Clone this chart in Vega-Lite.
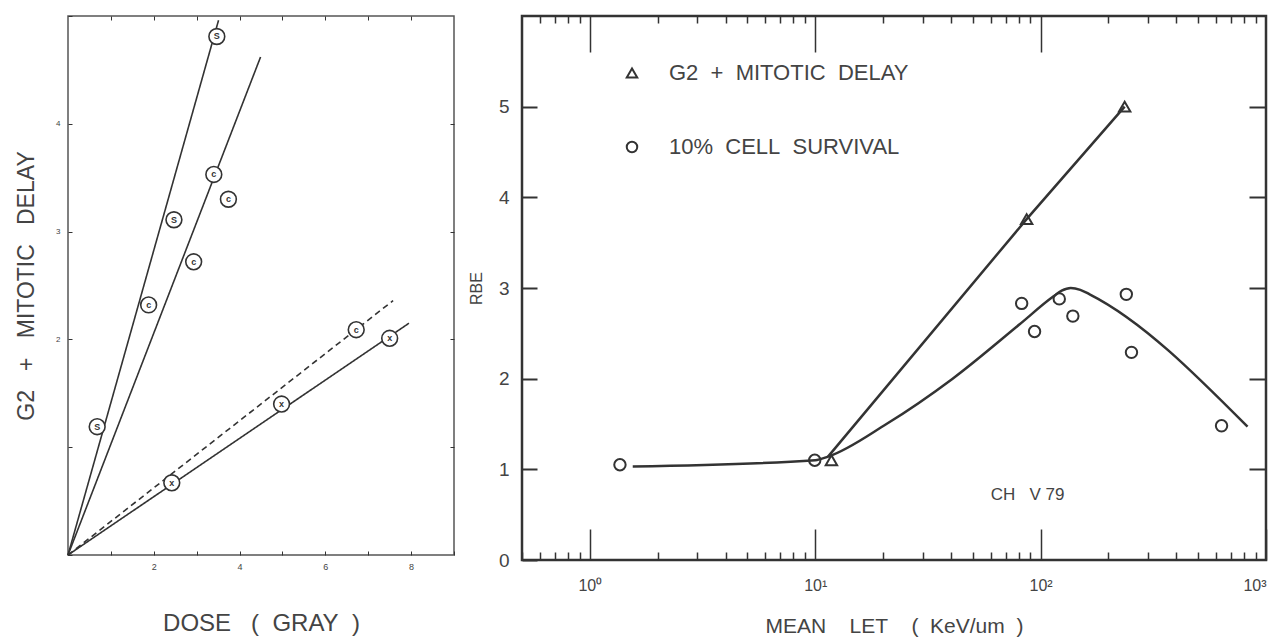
{
  "$schema": "https://vega.github.io/schema/vega-lite/v6.json",
  "background": "white",
  "padding": {"left": 14, "top": 14, "right": 5, "bottom": 5},
  "spacing": 68,
  "bounds": "flush",
  "config": {
    "font": "Liberation Sans",
    "view": {"stroke": null},
    "axis": {"labelColor": "#444", "titleColor": "#444", "titleFontWeight": "normal", "domain": false, "grid": false, "tickColor": "#333"}
  },
  "datasets": {
    "leftLines": [
      {"s": "A", "style": "solid", "dose": 0, "delay": 0},
      {"s": "A", "style": "solid", "dose": 3.51, "delay": 4.96},
      {"s": "B", "style": "solid", "dose": 0, "delay": 0},
      {"s": "B", "style": "solid", "dose": 4.49, "delay": 4.62},
      {"s": "C", "style": "solid", "dose": 0, "delay": 0},
      {"s": "C", "style": "solid", "dose": 7.95, "delay": 2.15},
      {"s": "D", "style": "dashed", "dose": 0, "delay": 0},
      {"s": "D", "style": "dashed", "dose": 7.58, "delay": 2.36}
    ],
    "leftPoints": [
      {"s": "A", "glyph": "S", "dose": 0.68, "delay": 1.19},
      {"s": "A", "glyph": "S", "dose": 2.47, "delay": 3.11},
      {"s": "A", "glyph": "S", "dose": 3.47, "delay": 4.81},
      {"s": "B", "glyph": "c", "dose": 1.88, "delay": 2.32},
      {"s": "B", "glyph": "c", "dose": 2.93, "delay": 2.72},
      {"s": "B", "glyph": "c", "dose": 3.4, "delay": 3.53},
      {"s": "B", "glyph": "c", "dose": 3.74, "delay": 3.3},
      {"s": "C", "glyph": "x", "dose": 2.42, "delay": 0.67},
      {"s": "C", "glyph": "x", "dose": 4.98, "delay": 1.4},
      {"s": "C", "glyph": "x", "dose": 7.5, "delay": 2.01},
      {"s": "D", "glyph": "c", "dose": 6.72, "delay": 2.09}
    ],
    "survCurve": [
      {"let": 1.55, "rbe": 1.03},
      {"let": 10, "rbe": 1.1},
      {"let": 11.4, "rbe": 1.14},
      {"let": 20.7, "rbe": 1.5},
      {"let": 40.7, "rbe": 2.0},
      {"let": 80.7, "rbe": 2.6},
      {"let": 113, "rbe": 2.9},
      {"let": 124, "rbe": 2.97},
      {"let": 136, "rbe": 3.0},
      {"let": 150, "rbe": 2.98},
      {"let": 165, "rbe": 2.93},
      {"let": 828, "rbe": 1.47}
    ],
    "triLine": [
      {"let": 11.4, "rbe": 1.14},
      {"let": 86.7, "rbe": 3.76},
      {"let": 236, "rbe": 5.0}
    ],
    "rightPoints": [
      {"series": "10%\u00a0\u00a0CELL\u00a0\u00a0SURVIVAL", "let": 1.36, "rbe": 1.05},
      {"series": "10%\u00a0\u00a0CELL\u00a0\u00a0SURVIVAL", "let": 9.95, "rbe": 1.1},
      {"series": "10%\u00a0\u00a0CELL\u00a0\u00a0SURVIVAL", "let": 82.4, "rbe": 2.83},
      {"series": "10%\u00a0\u00a0CELL\u00a0\u00a0SURVIVAL", "let": 94, "rbe": 2.52},
      {"series": "10%\u00a0\u00a0CELL\u00a0\u00a0SURVIVAL", "let": 121, "rbe": 2.88},
      {"series": "10%\u00a0\u00a0CELL\u00a0\u00a0SURVIVAL", "let": 139, "rbe": 2.69},
      {"series": "10%\u00a0\u00a0CELL\u00a0\u00a0SURVIVAL", "let": 240, "rbe": 2.93},
      {"series": "10%\u00a0\u00a0CELL\u00a0\u00a0SURVIVAL", "let": 253, "rbe": 2.29},
      {"series": "10%\u00a0\u00a0CELL\u00a0\u00a0SURVIVAL", "let": 635, "rbe": 1.48},
      {"series": "G2\u00a0\u00a0+\u00a0\u00a0MITOTIC\u00a0\u00a0DELAY", "let": 11.8, "rbe": 1.1},
      {"series": "G2\u00a0\u00a0+\u00a0\u00a0MITOTIC\u00a0\u00a0DELAY", "let": 86.7, "rbe": 3.76},
      {"series": "G2\u00a0\u00a0+\u00a0\u00a0MITOTIC\u00a0\u00a0DELAY", "let": 236, "rbe": 5.0}
    ],
    "note": [
      {"label": "CH\u00a0\u00a0\u00a0V\u00a079", "let": 87.5, "rbe": 0.72}
    ]
  },
  "hconcat": [
    {
      "width": 386,
      "height": 539,
      "view": {"stroke": "#555", "strokeWidth": 1.5},
      "layer": [
        {
          "data": {"name": "leftLines"},
          "mark": {"type": "line", "color": "#333", "strokeWidth": 1.6},
          "encoding": {
            "x": {"field": "dose", "type": "quantitative", "scale": {"domain": [0, 9], "nice": false},
              "axis": {"orient": "bottom", "values": [0, 1, 2, 3, 4, 5, 6, 7, 8, 9], "labelExpr": "datum.value % 2 == 0 && datum.value > 0 ? datum.label : ''", "tickSize": -4, "labelFontSize": 9, "labelPadding": 11, "title": "DOSE\u00a0\u00a0\u00a0(\u00a0\u00a0GRAY\u00a0\u00a0)", "titleFontSize": 24, "titlePadding": 40}},
            "y": {"field": "delay", "type": "quantitative", "scale": {"domain": [0, 5], "nice": false},
              "axis": {"orient": "left", "values": [0, 1, 2, 3, 4, 5], "labelExpr": "datum.value >= 2 && datum.value <= 4 ? datum.label : ''", "tickSize": -4, "labelFontSize": 8, "labelPadding": 12, "title": "G2\u00a0\u00a0\u00a0+\u00a0\u00a0\u00a0MITOTIC\u00a0\u00a0\u00a0DELAY", "titleFontSize": 23, "titlePadding": 17}},
            "detail": {"field": "s"},
            "strokeDash": {"field": "style", "type": "nominal", "scale": {"domain": ["solid", "dashed"], "range": [[1, 0], [6, 4]]}, "legend": null}
          }
        },
        {
          "data": {"name": "leftPoints"},
          "mark": {"type": "point", "shape": "circle", "size": 250, "filled": true, "fill": "white", "stroke": "#333", "strokeWidth": 1.6, "opacity": 1},
          "encoding": {
            "x": {"field": "dose", "type": "quantitative", "scale": {"domain": [0, 9], "nice": false},
              "axis": {"orient": "top", "values": [1, 2, 3, 4, 5, 6, 7, 8], "labels": false, "tickSize": -4, "title": null}},
            "y": {"field": "delay", "type": "quantitative", "scale": {"domain": [0, 5], "nice": false},
              "axis": {"orient": "right", "values": [1, 2, 3, 4], "labels": false, "tickSize": -4, "title": null}}
          }
        },
        {
          "data": {"name": "leftPoints"},
          "mark": {"type": "text", "fontSize": 9, "color": "#333", "fontWeight": "bold", "baseline": "middle", "align": "center"},
          "encoding": {
            "x": {"field": "dose", "type": "quantitative", "scale": {"domain": [0, 9], "nice": false}, "axis": null},
            "y": {"field": "delay", "type": "quantitative", "scale": {"domain": [0, 5], "nice": false}, "axis": null},
            "text": {"field": "glyph"}
          }
        }
      ],
      "resolve": {"axis": {"x": "independent", "y": "independent"}}
    },
    {
      "width": 744,
      "height": 544,
      "view": {"stroke": "#333", "strokeWidth": 2.5},
      "layer": [
        {
          "data": {"name": "survCurve"},
          "mark": {"type": "line", "color": "#333", "strokeWidth": 2.5, "interpolate": "monotone"},
          "encoding": {
            "x": {"field": "let", "type": "quantitative", "scale": {"type": "log", "domain": [0.5, 1000], "nice": false},
              "axis": {"orient": "bottom", "values": [1, 10, 100, 1000], "labelExpr": "datum.value == 1 ? '10⁰' : datum.value == 10 ? '10¹' : datum.value == 100 ? '10²' : '10³'", "tickSize": -31, "tickWidth": 1.5, "labelFontSize": 16, "labelPadding": 48, "title": "MEAN\u00a0\u00a0\u00a0\u00a0LET\u00a0\u00a0\u00a0\u00a0(\u00a0\u00a0KeV/um\u00a0\u00a0)", "titleFontSize": 21, "titlePadding": 22}},
            "y": {"field": "rbe", "type": "quantitative", "scale": {"domain": [0, 6], "nice": false},
              "axis": {"orient": "left", "values": [0, 1, 2, 3, 4, 5], "tickSize": -15, "tickWidth": 2, "labelFontSize": 19, "labelPadding": 28, "title": "RBE", "titleFontSize": 16, "titlePadding": 14}}
          }
        },
        {
          "data": {"name": "triLine"},
          "mark": {"type": "line", "color": "#333", "strokeWidth": 2.5},
          "encoding": {
            "x": {"field": "let", "type": "quantitative", "scale": {"type": "log", "domain": [0.5, 1000], "nice": false},
              "axis": {"orient": "bottom", "values": [0.5, 0.6, 0.7, 0.8, 0.9, 2, 3, 4, 5, 6, 7, 8, 9, 20, 30, 40, 50, 60, 70, 80, 90, 200, 300, 400, 500, 600, 700, 800, 900], "labels": false, "tickSize": -8, "tickWidth": 1.5, "title": null}},
            "y": {"field": "rbe", "type": "quantitative", "scale": {"domain": [0, 6], "nice": false},
              "axis": {"orient": "right", "values": [1, 2, 3, 4, 5], "labels": false, "tickSize": -17, "tickWidth": 2, "title": null}}
          }
        },
        {
          "data": {"name": "rightPoints"},
          "mark": {"type": "point", "size": 130, "strokeWidth": 2, "color": "#333", "filled": false, "opacity": 1},
          "encoding": {
            "x": {"field": "let", "type": "quantitative", "scale": {"type": "log", "domain": [0.5, 1000], "nice": false},
              "axis": {"orient": "top", "values": [1, 10, 100], "labels": false, "tickSize": -36, "tickWidth": 1.5, "title": null}},
            "y": {"field": "rbe", "type": "quantitative", "scale": {"domain": [0, 6], "nice": false}, "axis": null},
            "shape": {"field": "series", "type": "nominal",
              "scale": {"domain": ["G2\u00a0\u00a0+\u00a0\u00a0MITOTIC\u00a0\u00a0DELAY", "10%\u00a0\u00a0CELL\u00a0\u00a0SURVIVAL"], "range": ["triangle-up", "circle"]},
              "legend": {"orient": "none", "legendX": 553, "legendY": 46, "title": null, "labelFontSize": 22, "labelLimit": 500, "labelColor": "#444", "labelFont": "Liberation Sans", "symbolSize": 110, "symbolStrokeWidth": 2, "symbolStrokeColor": "#333", "rowPadding": 52, "labelOffset": 26}}
          }
        },
        {
          "data": {"name": "note"},
          "mark": {"type": "text", "fontSize": 17, "color": "#444", "align": "center", "baseline": "middle"},
          "encoding": {
            "x": {"field": "let", "type": "quantitative", "scale": {"type": "log", "domain": [0.5, 1000], "nice": false},
              "axis": {"orient": "top", "values": [0.6, 0.7, 0.8, 0.9, 2, 3, 4, 5, 6, 7, 8, 9, 20, 30, 40, 50, 60, 70, 80, 90, 200, 300, 400, 500, 600, 700, 800, 900], "labels": false, "tickSize": -7, "tickWidth": 1.5, "title": null}},
            "y": {"field": "rbe", "type": "quantitative", "scale": {"domain": [0, 6], "nice": false}, "axis": null},
            "text": {"field": "label"}
          }
        }
      ],
      "resolve": {"axis": {"x": "independent", "y": "independent"}}
    }
  ]
}
